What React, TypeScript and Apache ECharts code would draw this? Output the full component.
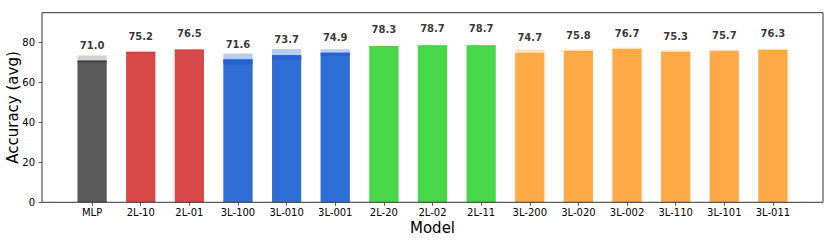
import React, { useEffect, useRef } from "react";
import * as echarts from "echarts";

const models = ["MLP", "2L-10", "2L-01", "3L-100", "3L-010", "3L-001", "2L-20", "2L-02", "2L-11", "3L-200", "3L-020", "3L-002", "3L-110", "3L-101", "3L-011"];
const meanAcc = [71.0, 75.2, 76.5, 71.6, 73.7, 74.9, 78.3, 78.7, 78.7, 74.7, 75.8, 76.7, 75.3, 75.7, 76.3];
const upperAcc = [73.6, 75.8, 76.6, 74.6, 76.8, 76.7, 78.4, 78.8, 78.8, 76.5, 76.6, 77.5, 76.2, 76.4, 76.9];
const lowerAcc = [70.0, 74.6, 76.4, 69.1, 71.2, 73.5, 78.2, 78.6, 78.6, 74.3, 75.5, 76.4, 75.1, 75.5, 76.1];
const family = ["mlp", "red", "red", "blue", "blue", "blue", "green", "green", "green", "orange", "orange", "orange", "orange", "orange", "orange"];
const yTicks = [0, 20, 40, 60, 80];

const palette: Record<string, { main: string; light: string; dark: string }> = {
  mlp: { main: "#5a5a5a", light: "#d2d2d2", dark: "#474747" },
  red: { main: "#d74848", light: "#f2b9b9", dark: "#cf3c3c" },
  blue: { main: "#2f6fd5", light: "#b9cdf1", dark: "#2462d0" },
  green: { main: "#48d64a", light: "#bff1bf", dark: "#3dcf3f" },
  orange: { main: "#ffaa47", light: "#ffdfb8", dark: "#fba138" },
};

export default function App() {
  const ref = useRef<HTMLDivElement>(null);
  useEffect(() => {
    if (!ref.current) return;
    const chart = echarts.init(ref.current, null, { renderer: "svg" });
    const H = 249;
    const frameL = 42, frameR = 823, frameT = 12.7, frameB = 202.3;
    const band = (frameR - frameL) / 16.06;
    const gridL = frameL + 0.53 * band;
    const gridW = 15 * band;
    const font = "DejaVu Sans";
    const col = (i: number, k: "main" | "light" | "dark") => palette[family[i]][k];
    const option: any = {
      animation: false,
      grid: { left: gridL, width: gridW, top: frameT, bottom: H - frameB, containLabel: false, outerBoundsMode: "none" },
      xAxis: {
        type: "category",
        data: models,
        name: "Model",
        nameLocation: "middle",
        nameGap: 18.5,
        nameMoveOverlap: false,
        nameTextStyle: { fontFamily: font, fontSize: 15, color: "#000", verticalAlign: "top" },
        axisLine: { show: false },
        axisTick: { show: true, alignWithLabel: true, length: 3.5, lineStyle: { color: "#333", width: 0.8 } },
        axisLabel: { fontFamily: font, fontSize: 10, color: "#000", margin: 5.5, interval: 0 },
      },
      yAxis: {
        type: "value",
        min: 0,
        max: 95,
        interval: 20,
        offset: gridL - frameL,
        name: "Accuracy (avg)",
        nameLocation: "middle",
        nameGap: 22,
        nameMoveOverlap: false,
        nameTextStyle: { fontFamily: font, fontSize: 15, color: "#000" },
        axisLine: { show: false },
        splitLine: { show: false },
        axisTick: { show: true, length: 3.5, lineStyle: { color: "#333", width: 0.8 } },
        axisLabel: {
          fontFamily: font, fontSize: 10, color: "#000", margin: 7,
          showMaxLabel: false,
          formatter: (v: number) => (yTicks.includes(v) ? String(v) : ""),
        },
      },
      series: [
        {
          type: "bar",
          barWidth: "60%",
          barGap: "-100%",
          data: upperAcc.map((v, i) => ({ value: v, itemStyle: { color: col(i, "light") } })),
          silent: true,
        },
        {
          type: "bar",
          barWidth: "60%",
          barGap: "-100%",
          data: meanAcc.map((v, i) => ({ value: v, itemStyle: { color: col(i, "main") } })),
          silent: true,
        },
        {
          type: "bar",
          stack: "strip",
          barWidth: "60%",
          barGap: "-100%",
          data: lowerAcc.map((v) => ({ value: v, itemStyle: { color: "rgba(0,0,0,0)" } })),
          silent: true,
        },
        {
          type: "bar",
          stack: "strip",
          barWidth: "60%",
          barGap: "-100%",
          data: meanAcc.map((v, i) => ({ value: +(v - lowerAcc[i]).toFixed(2), itemStyle: { color: col(i, "dark") } })),
          silent: true,
        },
        {
          type: "scatter",
          symbolSize: 0,
          data: meanAcc.map((v, i) => [i, v * 1.1 + 0.4]),
          label: {
            show: true,
            position: "inside",
            formatter: (p: any) => meanAcc[p.dataIndex].toFixed(1),
            fontFamily: font,
            fontSize: 10,
            fontWeight: "bold",
            color: "#000",
          },
          silent: true,
        },
      ],
      graphic: [
        {
          type: "rect",
          shape: { x: frameL, y: frameT, width: frameR - frameL, height: frameB - frameT },
          style: { fill: "none", stroke: "#333", lineWidth: 1 },
          silent: true,
          z: 100,
        },
      ],
    };
    chart.setOption(option);
    return () => chart.dispose();
  }, []);
  return <div ref={ref} style={{ width: 830, height: 249, position: "absolute", left: 0, top: 0 }} />;
}
